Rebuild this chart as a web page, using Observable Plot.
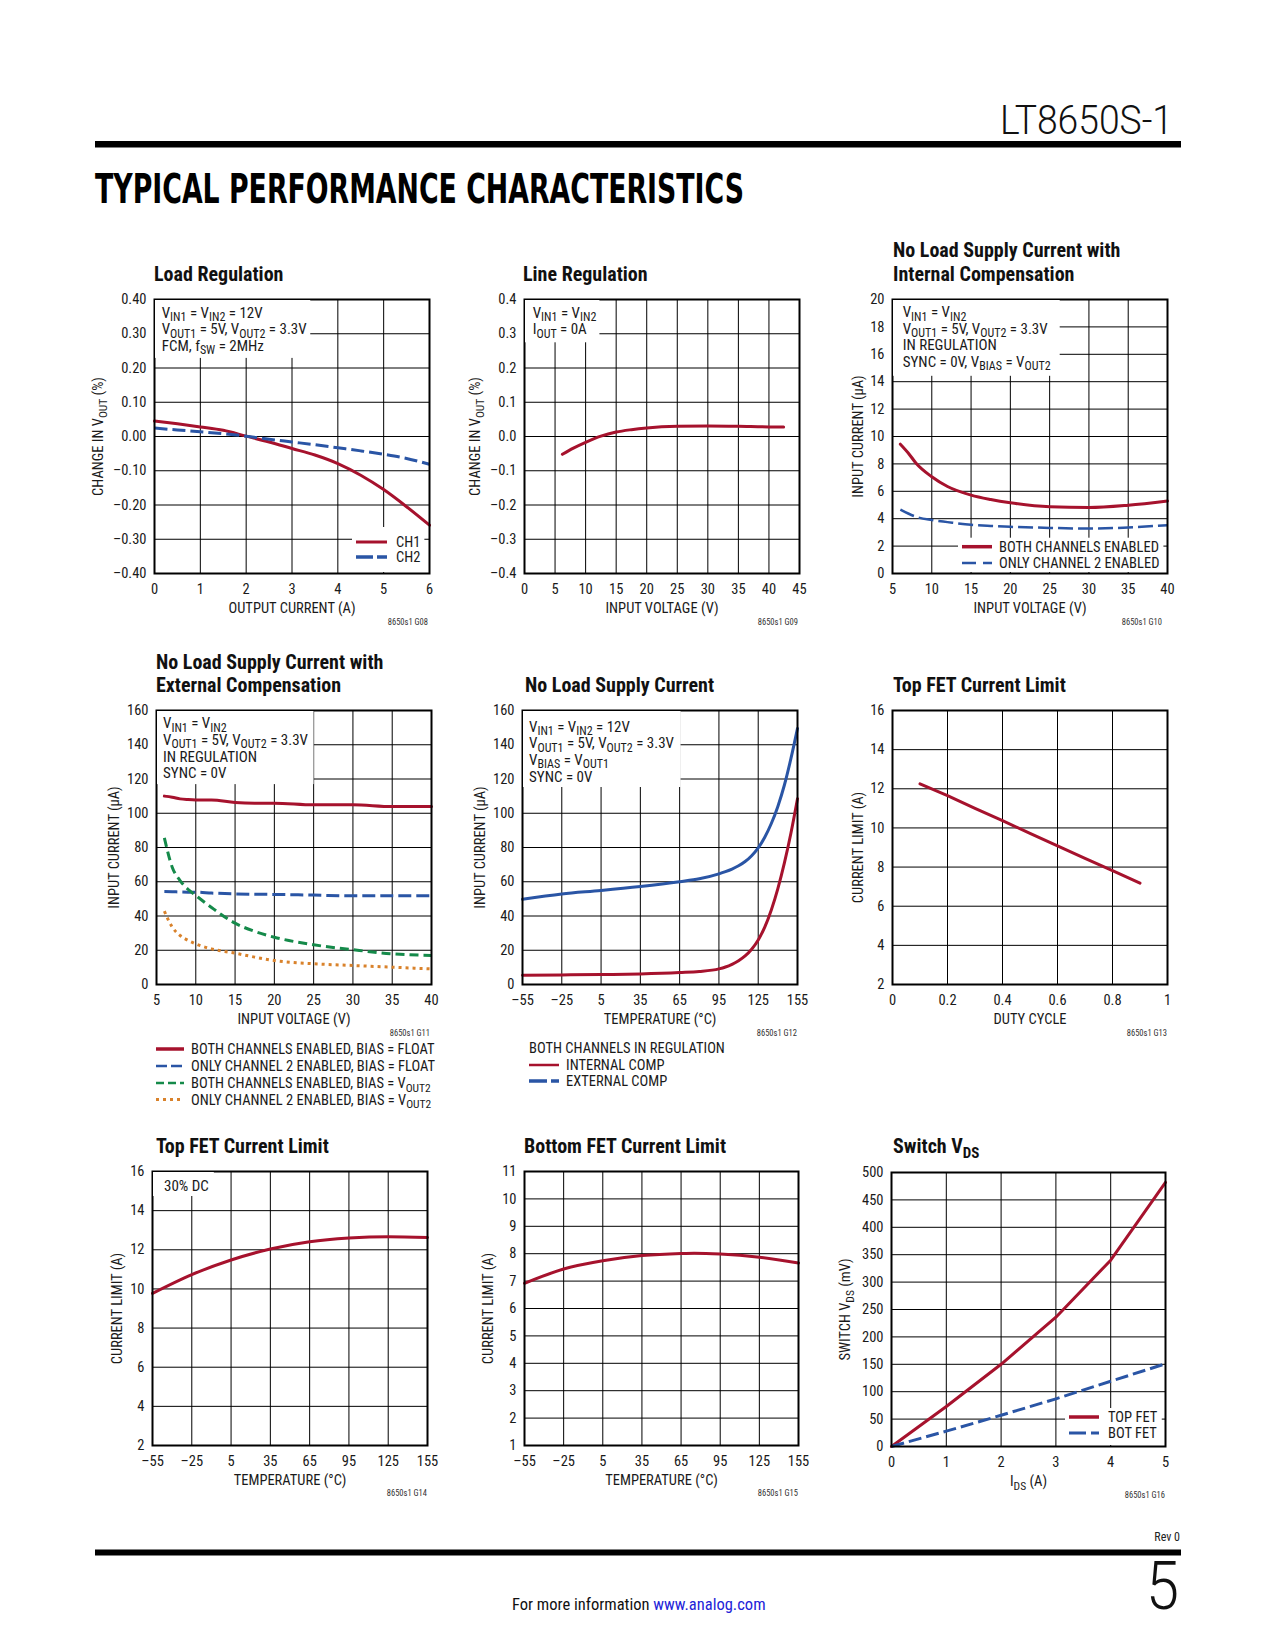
<!DOCTYPE html>
<html>
<head>
<meta charset="utf-8">
<script src="https://cdn.jsdelivr.net/npm/d3@7"></script>
<script src="https://cdn.jsdelivr.net/npm/@observablehq/plot@0.6"></script>
<style>
  html, body { margin: 0; padding: 0; background: #fff; }
  #page { position: relative; width: 1275px; height: 1650px; overflow: hidden; background: #fff; }
  #page svg { position: absolute; }
</style>
</head>
<body>
<div id="page"></div>
<script>
// ---------------- DATA ----------------
// G08 Load Regulation
const g08Current = [0, 0.5, 1, 1.5, 2, 2.5, 3, 3.5, 4, 4.5, 5, 5.5, 6];
const g08CH1 = [0.045, 0.037, 0.028, 0.018, 0.001, -0.016, -0.035, -0.054, -0.079, -0.113, -0.155, -0.205, -0.259];
const g08CH2 = [0.025, 0.019, 0.014, 0.008, 0.001, -0.008, -0.016, -0.024, -0.033, -0.042, -0.052, -0.064, -0.081];
const g08XTicks = [0, 1, 2, 3, 4, 5, 6];
const g08YTicks = [-0.4, -0.3, -0.2, -0.1, 0, 0.1, 0.2, 0.3, 0.4];

// G09 Line Regulation
const g09Vin = [6.2, 8, 10, 12.5, 15, 17.5, 20, 25, 30, 35, 40, 42.4];
const g09Change = [-0.052, -0.034, -0.017, 0.001, 0.013, 0.020, 0.025, 0.030, 0.031, 0.030, 0.028, 0.028];
const g09XTicks = [0, 5, 10, 15, 20, 25, 30, 35, 40, 45];
const g09YTicks = [-0.4, -0.3, -0.2, -0.1, 0, 0.1, 0.2, 0.3, 0.4];

// G10 No Load Supply Current with Internal Compensation
const g10Vin = [6, 7, 8, 10, 12, 15, 17.5, 20, 25, 30, 35, 40];
const g10Both = [9.44, 8.8, 8.05, 7.06, 6.35, 5.72, 5.4, 5.16, 4.87, 4.82, 4.99, 5.3];
const g10Ch2 = [4.67, 4.38, 4.14, 3.9, 3.75, 3.55, 3.47, 3.41, 3.33, 3.28, 3.36, 3.53];
const g10XTicks = [5, 10, 15, 20, 25, 30, 35, 40];
const g10YTicks = [0, 2, 4, 6, 8, 10, 12, 14, 16, 18, 20];

// G11 No Load Supply Current with External Compensation
const g11Vin = [6, 7, 8, 9, 10, 12, 15, 17.5, 20, 25, 30, 35, 40];
const g11BothFloat = [110.0, 109.4, 108.4, 108.0, 107.8, 107.8, 106.3, 105.9, 105.9, 104.9, 104.9, 103.9, 103.9];
const g11Ch2Float = [54.3, 54.2, 54.0, 53.9, 53.9, 53.4, 52.9, 52.7, 52.6, 52.2, 51.8, 51.8, 51.8];
const g11BothVout2 = [85.6, 68.5, 60.7, 55.6, 52.0, 45.0, 35.8, 31.0, 27.6, 23.2, 20.3, 17.9, 17.0];
const g11Ch2Vout2 = [42.8, 33.5, 28.6, 25.8, 23.7, 20.8, 18.3, 16.0, 14.0, 12.1, 11.1, 10.1, 9.1];
const g11XTicks = [5, 10, 15, 20, 25, 30, 35, 40];
const g11YTicks = [0, 20, 40, 60, 80, 100, 120, 140, 160];

// G12 No Load Supply Current vs temperature
const g12Temp = [-55, -25, 5, 35, 65, 80, 95, 100, 105, 110, 115, 120, 125, 130, 135, 140, 145, 150, 155];
const g12Internal = [5.45, 5.6, 5.8, 6.2, 7.0, 7.6, 9.1, 10.2, 11.8, 13.9, 16.7, 20.6, 26.0, 33.5, 43.5, 56.0, 71.0, 88.5, 108.5];
const g12External = [49.8, 52.9, 54.9, 57.2, 60.0, 61.7, 64.6, 65.9, 67.4, 69.3, 71.8, 75.2, 79.8, 86.0, 94.0, 104.0, 116.5, 132.0, 149.5];
const g12XTicks = [-55, -25, 5, 35, 65, 95, 125, 155];
const g12YTicks = [0, 20, 40, 60, 80, 100, 120, 140, 160];

// G13 Top FET Current Limit vs duty cycle
const g13Duty = [0.1, 0.2, 0.3, 0.4, 0.5, 0.6, 0.7, 0.8, 0.9];
const g13Limit = [12.25, 11.65, 11.0, 10.37, 9.72, 9.08, 8.45, 7.82, 7.18];
const g13XTicks = [0, 0.2, 0.4, 0.6, 0.8, 1];
const g13YTicks = [2, 4, 6, 8, 10, 12, 14, 16];

// G14 Top FET Current Limit vs temperature
const g14Temp = [-55, -25, 5, 35, 65, 95, 125, 155];
const g14Limit = [9.77, 10.73, 11.48, 12.04, 12.41, 12.6, 12.67, 12.63];
const g14XTicks = [-55, -25, 5, 35, 65, 95, 125, 155];
const g14YTicks = [2, 4, 6, 8, 10, 12, 14, 16];

// G15 Bottom FET Current Limit vs temperature
const g15Temp = [-55, -25, 5, 35, 65, 75, 95, 125, 155];
const g15Limit = [6.92, 7.44, 7.74, 7.93, 8.01, 8.02, 7.99, 7.87, 7.66];
const g15XTicks = [-55, -25, 5, 35, 65, 95, 125, 155];
const g15YTicks = [1, 2, 3, 4, 5, 6, 7, 8, 9, 10, 11];

// G16 Switch VDS
const g16Ids = [0, 1, 2, 3, 4, 5];
const g16Top = [0, 73, 150, 236, 340, 482];
const g16Bot = [0, 28, 57, 87, 119, 151];
const g16XTicks = [0, 1, 2, 3, 4, 5];
const g16YTicks = [0, 50, 100, 150, 200, 250, 300, 350, 400, 450, 500];

// ---------------- STYLE ----------------
const FF = '"Liberation Sans Narrow","Roboto Condensed","DejaVu Sans Condensed","Liberation Sans",Arial,sans-serif';
const RED = "#a6122d", BLUE = "#2a55a5", GREEN = "#158a4a", ORANGE = "#d9822b";
const INK = "#1a1a1a";
const NS = "http://www.w3.org/2000/svg";
const dn = (dec) => (d) => (d < 0 ? "\u2013" : "") + Math.abs(d).toFixed(dec);
const plain = (d) => String(d);
const ANN = 15;

// ---------------- HELPERS ----------------
function rich(el, str, subSize, subDy) {
  while (el.firstChild) el.removeChild(el.firstChild);
  const parts = str.split(/(_\{[^}]*\})/);
  let shifted = false;
  for (const p of parts) {
    if (!p) continue;
    const t = document.createElementNS(NS, "tspan");
    if (p.startsWith("_{")) {
      t.textContent = p.slice(2, -1);
      t.setAttribute("font-size", subSize);
      t.setAttribute("dy", subDy);
      shifted = true;
    } else {
      t.textContent = p;
      if (shifted) { t.setAttribute("dy", -subDy); shifted = false; }
    }
    el.appendChild(t);
  }
}
function styleText(t, o) {
  t.setAttribute("font-family", o.family || FF);
  t.setAttribute("font-size", o.size || 14.5);
  if (o.weight) t.setAttribute("font-weight", o.weight);
  t.setAttribute("fill", o.fill || INK);
  if (o.anchor) t.setAttribute("text-anchor", o.anchor);
}
function txt(parent, x, y, str, o = {}) {
  const t = document.createElementNS(NS, "text");
  t.setAttribute("x", x); t.setAttribute("y", y);
  styleText(t, o);
  parent.appendChild(t);
  rich(t, str, o.subSize || (o.size || 14.5) * 0.8, o.subDy || 3.5);
  if (o.len) { t.setAttribute("textLength", o.len); t.setAttribute("lengthAdjust", "spacingAndGlyphs"); }
  return t;
}
// one multi-line text element: each line a tspan at its own baseline
function block(parent, x, ys, lines, o = {}) {
  const t = document.createElementNS(NS, "text");
  styleText(t, o);
  parent.appendChild(t);
  lines.forEach((line, i) => {
    const ts = document.createElementNS(NS, "tspan");
    ts.setAttribute("x", x); ts.setAttribute("y", ys[i]);
    t.appendChild(ts);
    rich(ts, line, o.subSize || (o.size || 14.5) * 0.8, o.subDy || 3.5);
  });
  return t;
}
function seg(parent, x1, y1, x2, y2, stroke, width, dash) {
  const l = document.createElementNS(NS, "line");
  l.setAttribute("x1", x1); l.setAttribute("y1", y1); l.setAttribute("x2", x2); l.setAttribute("y2", y2);
  l.setAttribute("stroke", stroke); l.setAttribute("stroke-width", width);
  if (dash) l.setAttribute("stroke-dasharray", dash);
  parent.appendChild(l);
  return l;
}
function rect(parent, x, y, w, h, fill, before) {
  const r = document.createElementNS(NS, "rect");
  r.setAttribute("x", x); r.setAttribute("y", y); r.setAttribute("width", Math.max(0, w)); r.setAttribute("height", Math.max(0, h));
  r.setAttribute("fill", fill);
  if (before) parent.insertBefore(r, before); else parent.appendChild(r);
  return r;
}

// ---------------- CHART CONFIGS ----------------
const charts = [
  { frame: [154, 299, 275, 274],
    x: { domain: [0, 6], ticks: g08XTicks, fmt: plain }, y: { domain: [-0.4, 0.4], ticks: g08YTicks, fmt: dn(2) },
    series: [
      { x: g08Current, y: g08CH1, stroke: RED, width: 3 },
      { x: g08Current, y: g08CH2, stroke: BLUE, width: 3, dash: "13,5" }],
    xlabel: "OUTPUT CURRENT (A)", ylabel: "CHANGE IN V_{OUT} (%)", ylabelOff: 56,
    title: ["Load Regulation"], titleX: 154, titleY: [280.7],
    ann: { x: 161.7, y: 317.7, lines: ["V_{IN1} = V_{IN2} = 12V", "V_{OUT1} = 5V, V_{OUT2} = 3.3V", "FCM, f_{SW} = 2MHz"], padR: 3, padB: 7 },
    legend: { textX: 396, len: 31, gap: 9, top: 20, rows: [
      { y: 547, label: "CH1", stroke: RED, width: 3 },
      { y: 562, label: "CH2", stroke: BLUE, width: 3.5, dash: "17,4" }] },
    code: { text: "8650s1 G08", x: 428, y: 625 } },

  { frame: [524, 299, 275, 274],
    x: { domain: [0, 45], ticks: g09XTicks, fmt: plain }, y: { domain: [-0.4, 0.4], ticks: g09YTicks, fmt: dn(1) },
    series: [{ x: g09Vin, y: g09Change, stroke: RED, width: 3 }],
    xlabel: "INPUT VOLTAGE (V)", ylabel: "CHANGE IN V_{OUT} (%)", ylabelOff: 49,
    title: ["Line Regulation"], titleX: 523, titleY: [280.7],
    ann: { x: 532.7, y: 317.7, lines: ["V_{IN1} = V_{IN2}", "I_{OUT} = 0A"], padR: 3, padB: 8 },
    code: { text: "8650s1 G09", x: 798, y: 625 } },

  { frame: [892, 299, 275, 274],
    x: { domain: [5, 40], ticks: g10XTicks, fmt: plain }, y: { domain: [0, 20], ticks: g10YTicks, fmt: plain },
    series: [
      { x: g10Vin, y: g10Both, stroke: RED, width: 3 },
      { x: g10Vin, y: g10Ch2, stroke: BLUE, width: 2.5, dash: "15,5" }],
    xlabel: "INPUT VOLTAGE (V)", ylabel: "INPUT CURRENT (\u03bcA)", ylabelOff: 34,
    title: ["No Load Supply Current with", "Internal Compensation"], titleX: 893, titleY: [257, 280.7],
    ann: { x: 902.7, y: 317, lines: ["V_{IN1} = V_{IN2}", "V_{OUT1} = 5V, V_{OUT2} = 3.3V", "IN REGULATION", "SYNC = 0V, V_{BIAS} = V_{OUT2}"], padR: 9, padB: 9 },
    legend: { textX: 999, len: 30, gap: 7, top: 14, rows: [
      { y: 551.7, label: "BOTH CHANNELS ENABLED", stroke: RED, width: 3.5 },
      { y: 568, label: "ONLY CHANNEL 2 ENABLED", stroke: BLUE, width: 2.5, dash: "14,7" }] },
    code: { text: "8650s1 G10", x: 1162, y: 625 } },

  { frame: [156, 710, 275, 274],
    x: { domain: [5, 40], ticks: g11XTicks, fmt: plain }, y: { domain: [0, 160], ticks: g11YTicks, fmt: plain },
    series: [
      { x: g11Vin, y: g11BothFloat, stroke: RED, width: 3 },
      { x: g11Vin, y: g11Ch2Float, stroke: BLUE, width: 3, dash: "13,5" },
      { x: g11Vin, y: g11BothVout2, stroke: GREEN, width: 3, dash: "9,5" },
      { x: g11Vin, y: g11Ch2Vout2, stroke: ORANGE, width: 3, dash: "3,4" }],
    xlabel: "INPUT VOLTAGE (V)", ylabel: "INPUT CURRENT (\u03bcA)", ylabelOff: 42,
    title: ["No Load Supply Current with", "External Compensation"], titleX: 156, titleY: [669, 691.7],
    ann: { x: 163, y: 728.3, lines: ["V_{IN1} = V_{IN2}", "V_{OUT1} = 5V, V_{OUT2} = 3.3V", "IN REGULATION", "SYNC = 0V"], padR: 5, padB: 6 },
    below: { textX: 191, len: 28, gap: 7, rows: [
      { y: 1054, label: "BOTH CHANNELS ENABLED, BIAS = FLOAT", stroke: RED, width: 3.5 },
      { y: 1071, label: "ONLY CHANNEL 2 ENABLED, BIAS = FLOAT", stroke: BLUE, width: 2.5, dash: "11,4" },
      { y: 1088, label: "BOTH CHANNELS ENABLED, BIAS = V_{OUT2}", stroke: GREEN, width: 2.5, dash: "8,4" },
      { y: 1104.5, label: "ONLY CHANNEL 2 ENABLED, BIAS = V_{OUT2}", stroke: ORANGE, width: 3, dash: "3,4" }] },
    code: { text: "8650s1 G11", x: 430, y: 1036 } },

  { frame: [522, 710, 275, 274],
    x: { domain: [-55, 155], ticks: g12XTicks, fmt: dn(0) }, y: { domain: [0, 160], ticks: g12YTicks, fmt: plain },
    series: [
      { x: g12Temp, y: g12Internal, stroke: RED, width: 3 },
      { x: g12Temp, y: g12External, stroke: BLUE, width: 3 }],
    xlabel: "TEMPERATURE (\u00b0C)", ylabel: "INPUT CURRENT (\u03bcA)", ylabelOff: 42,
    title: ["No Load Supply Current"], titleX: 525, titleY: [692],
    ann: { x: 529, y: 731.7, lines: ["V_{IN1} = V_{IN2} = 12V", "V_{OUT1} = 5V, V_{OUT2} = 3.3V", "V_{BIAS} = V_{OUT1}", "SYNC = 0V"], padR: 6, padB: 5.5 },
    below: { header: "BOTH CHANNELS IN REGULATION", headerX: 529, headerY: 1053, textX: 566, len: 30, gap: 7, rows: [
      { y: 1070, label: "INTERNAL COMP", stroke: RED, width: 2.5 },
      { y: 1086, label: "EXTERNAL COMP", stroke: BLUE, width: 3.5, dash: "18,4" }] },
    code: { text: "8650s1 G12", x: 797, y: 1036 } },

  { frame: [892, 710, 275, 274],
    x: { domain: [0, 1], ticks: g13XTicks, fmt: plain }, y: { domain: [2, 16], ticks: g13YTicks, fmt: plain },
    series: [{ x: g13Duty, y: g13Limit, stroke: RED, width: 3, curve: "linear" }],
    xlabel: "DUTY CYCLE", ylabel: "CURRENT LIMIT (A)", ylabelOff: 34,
    title: ["Top FET Current Limit"], titleX: 893, titleY: [692],
    code: { text: "8650s1 G13", x: 1167, y: 1036 } },

  { frame: [152, 1171, 275, 274],
    x: { domain: [-55, 155], ticks: g14XTicks, fmt: dn(0) }, y: { domain: [2, 16], ticks: g14YTicks, fmt: plain },
    series: [{ x: g14Temp, y: g14Limit, stroke: RED, width: 3 }],
    xlabel: "TEMPERATURE (\u00b0C)", ylabel: "CURRENT LIMIT (A)", ylabelOff: 35,
    title: ["Top FET Current Limit"], titleX: 156, titleY: [1153],
    ann: { x: 164, y: 1191, lines: ["30% DC"], padR: 5, padB: 5 },
    code: { text: "8650s1 G14", x: 427, y: 1496 } },

  { frame: [524, 1171, 274, 274],
    x: { domain: [-55, 155], ticks: g15XTicks, fmt: dn(0) }, y: { domain: [1, 11], ticks: g15YTicks, fmt: plain },
    series: [{ x: g15Temp, y: g15Limit, stroke: RED, width: 3 }],
    xlabel: "TEMPERATURE (\u00b0C)", ylabel: "CURRENT LIMIT (A)", ylabelOff: 36,
    title: ["Bottom FET Current Limit"], titleX: 524, titleY: [1153],
    code: { text: "8650s1 G15", x: 798, y: 1496 } },

  { frame: [891, 1172, 274, 274],
    x: { domain: [0, 5], ticks: g16XTicks, fmt: plain }, y: { domain: [0, 500], ticks: g16YTicks, fmt: plain },
    series: [
      { x: g16Ids, y: g16Top, stroke: RED, width: 3, curve: "linear" },
      { x: g16Ids, y: g16Bot, stroke: BLUE, width: 3, dash: "13,5", curve: "linear" }],
    xlabel: "I_{DS} (A)", ylabel: "SWITCH V_{DS} (mV)", ylabelOff: 46,
    title: ["Switch V_{DS}"], titleX: 893, titleY: [1153],
    legend: { textX: 1108, len: 30, gap: 9, top: 14, rows: [
      { y: 1422, label: "TOP FET", stroke: RED, width: 3.5 },
      { y: 1438, label: "BOT FET", stroke: BLUE, width: 3, dash: "17,5" }] },
    code: { text: "8650s1 G16", x: 1165, y: 1498 } }
];

// ---------------- RENDER ----------------
const page = document.getElementById("page");
const M = { l: 72, r: 22, t: 10, b: 54 };

for (const c of charts) {
  const [L, T, W, H] = c.frame;
  const marks = [
    Plot.gridX(c.x.ticks, { stroke: "#000", strokeOpacity: 1, strokeWidth: 1 }),
    Plot.gridY(c.y.ticks, { stroke: "#000", strokeOpacity: 1, strokeWidth: 1 })
  ];
  for (const s of c.series) {
    const rows = s.x.map((x, i) => ({ x, y: s.y[i] }));
    marks.push(Plot.line(rows, {
      x: "x", y: "y", stroke: s.stroke, strokeWidth: s.width,
      strokeDasharray: s.dash, curve: s.curve || "monotone-x",
      strokeLinecap: s.dash ? "butt" : "round", strokeLinejoin: "round"
    }));
  }
  marks.push(Plot.frame({ stroke: "#000", strokeWidth: 2 }));
  marks.push(Plot.axisX({ ticks: c.x.ticks, tickFormat: c.x.fmt, tickSize: 0, tickPadding: 10, label: null }));
  marks.push(Plot.axisY({ ticks: c.y.ticks, tickFormat: c.y.fmt, tickSize: 0, tickPadding: 8, label: null }));
  marks.push(Plot.text([c.xlabel], { text: (d) => d, frameAnchor: "bottom", dy: 35, textAnchor: "middle", lineAnchor: "middle" }));
  marks.push(Plot.text([c.ylabel], { text: (d) => d, frameAnchor: "left", dx: -c.ylabelOff, rotate: -90, textAnchor: "middle", lineAnchor: "middle" }));

  const svg = Plot.plot({
    width: W + M.l + M.r, height: H + M.t + M.b,
    marginLeft: M.l, marginRight: M.r, marginTop: M.t, marginBottom: M.b,
    style: { fontFamily: FF, fontSize: "14.5px", color: INK, background: "transparent", overflow: "visible" },
    x: { domain: c.x.domain },
    y: { domain: c.y.domain },
    marks
  });
  svg.style.left = (L - M.l) + "px";
  svg.style.top = (T - M.t) + "px";
  page.appendChild(svg);
  svg.querySelectorAll("text").forEach((t) => {
    if (t.textContent.includes("_{")) rich(t, t.textContent, 11.5, 3.5);
  });
}

// overlay for titles, annotations, legends, page furniture
const ov = document.createElementNS(NS, "svg");
ov.setAttribute("width", 1275); ov.setAttribute("height", 1650);
ov.style.left = "0px"; ov.style.top = "0px";
page.appendChild(ov);

for (const c of charts) {
  const [L, T, W, H] = c.frame;
  block(ov, c.titleX, c.titleY, c.title, { size: 20, weight: "bold", fill: "#111", subSize: 15, subDy: 4.5 });
  txt(ov, c.code.x, c.code.y, c.code.text, { size: 8.5, anchor: "end", fill: "#333" });
  if (c.ann) {
    const g = document.createElementNS(NS, "g");
    ov.appendChild(g);
    const ys = c.ann.lines.map((_, i) => c.ann.y + i * 16.6);
    block(g, c.ann.x, ys, c.ann.lines, { size: ANN, subSize: 12, subDy: 3.5 });
    const bb = g.getBBox();
    rect(g, L + 1, T + 1, bb.x + bb.width + c.ann.padR - (L + 1), ys[ys.length - 1] + c.ann.padB - (T + 1), "#fff", g.firstChild);
  }
  if (c.legend) {
    const lg = c.legend;
    const g = document.createElementNS(NS, "g");
    ov.appendChild(g);
    for (const r of lg.rows) seg(g, lg.textX - lg.gap - lg.len, r.y - 5, lg.textX - lg.gap, r.y - 5, r.stroke, r.width, r.dash);
    block(g, lg.textX, lg.rows.map((r) => r.y), lg.rows.map((r) => r.label), { size: 14.5 });
    const bb = g.getBBox();
    const x0 = lg.textX - lg.gap - lg.len - 4;
    const y0 = lg.rows[0].y - lg.top;
    const x1 = Math.min(bb.x + bb.width + 4, L + W - 1);
    rect(g, x0, y0, x1 - x0, (T + H - 1) - y0, "#fff", g.firstChild);
  }
  if (c.below) {
    const lg = c.below;
    for (const r of lg.rows) seg(ov, lg.textX - lg.gap - lg.len, r.y - 5, lg.textX - lg.gap, r.y - 5, r.stroke, r.width, r.dash);
    const t = block(ov, lg.textX, lg.rows.map((r) => r.y), lg.rows.map((r) => r.label), { size: 14.5, subSize: 11.5, subDy: 3.5 });
    if (lg.header) {
      const ts = document.createElementNS(NS, "tspan");
      ts.setAttribute("x", lg.headerX); ts.setAttribute("y", lg.headerY);
      ts.textContent = lg.header;
      t.insertBefore(ts, t.firstChild);
    }
  }
}

// page furniture
txt(ov, 1000, 134, "LT8650S-1", { size: 41, family: "Roboto, 'Liberation Sans', sans-serif", weight: 300, fill: "#111", len: 173 });
rect(ov, 95, 141, 1086, 6.5, "#000");
txt(ov, 95, 203, "TYPICAL PERFORMANCE CHARACTERISTICS", { size: 41, family: "'DejaVu Sans', sans-serif", weight: "bold", fill: "#000", len: 649 });
rect(ov, 95, 1549.5, 1086, 6, "#000");
txt(ov, 1180, 1541, "Rev 0", { size: 12, anchor: "end", fill: "#222" });
txt(ov, 1146, 1609, "5", { size: 66, family: "Roboto, 'Liberation Sans', sans-serif", weight: 300, fill: "#111", len: 33 });
{
  const t = document.createElementNS(NS, "text");
  t.setAttribute("x", 512); t.setAttribute("y", 1610);
  t.setAttribute("font-family", FF); t.setAttribute("font-size", 16.5);
  const a = document.createElementNS(NS, "tspan"); a.setAttribute("fill", "#111"); a.textContent = "For more information ";
  const b = document.createElementNS(NS, "tspan"); b.setAttribute("fill", "#2323d8"); b.textContent = "www.analog.com";
  t.appendChild(a); t.appendChild(b);
  ov.appendChild(t);
}
</script>
</body>
</html>
